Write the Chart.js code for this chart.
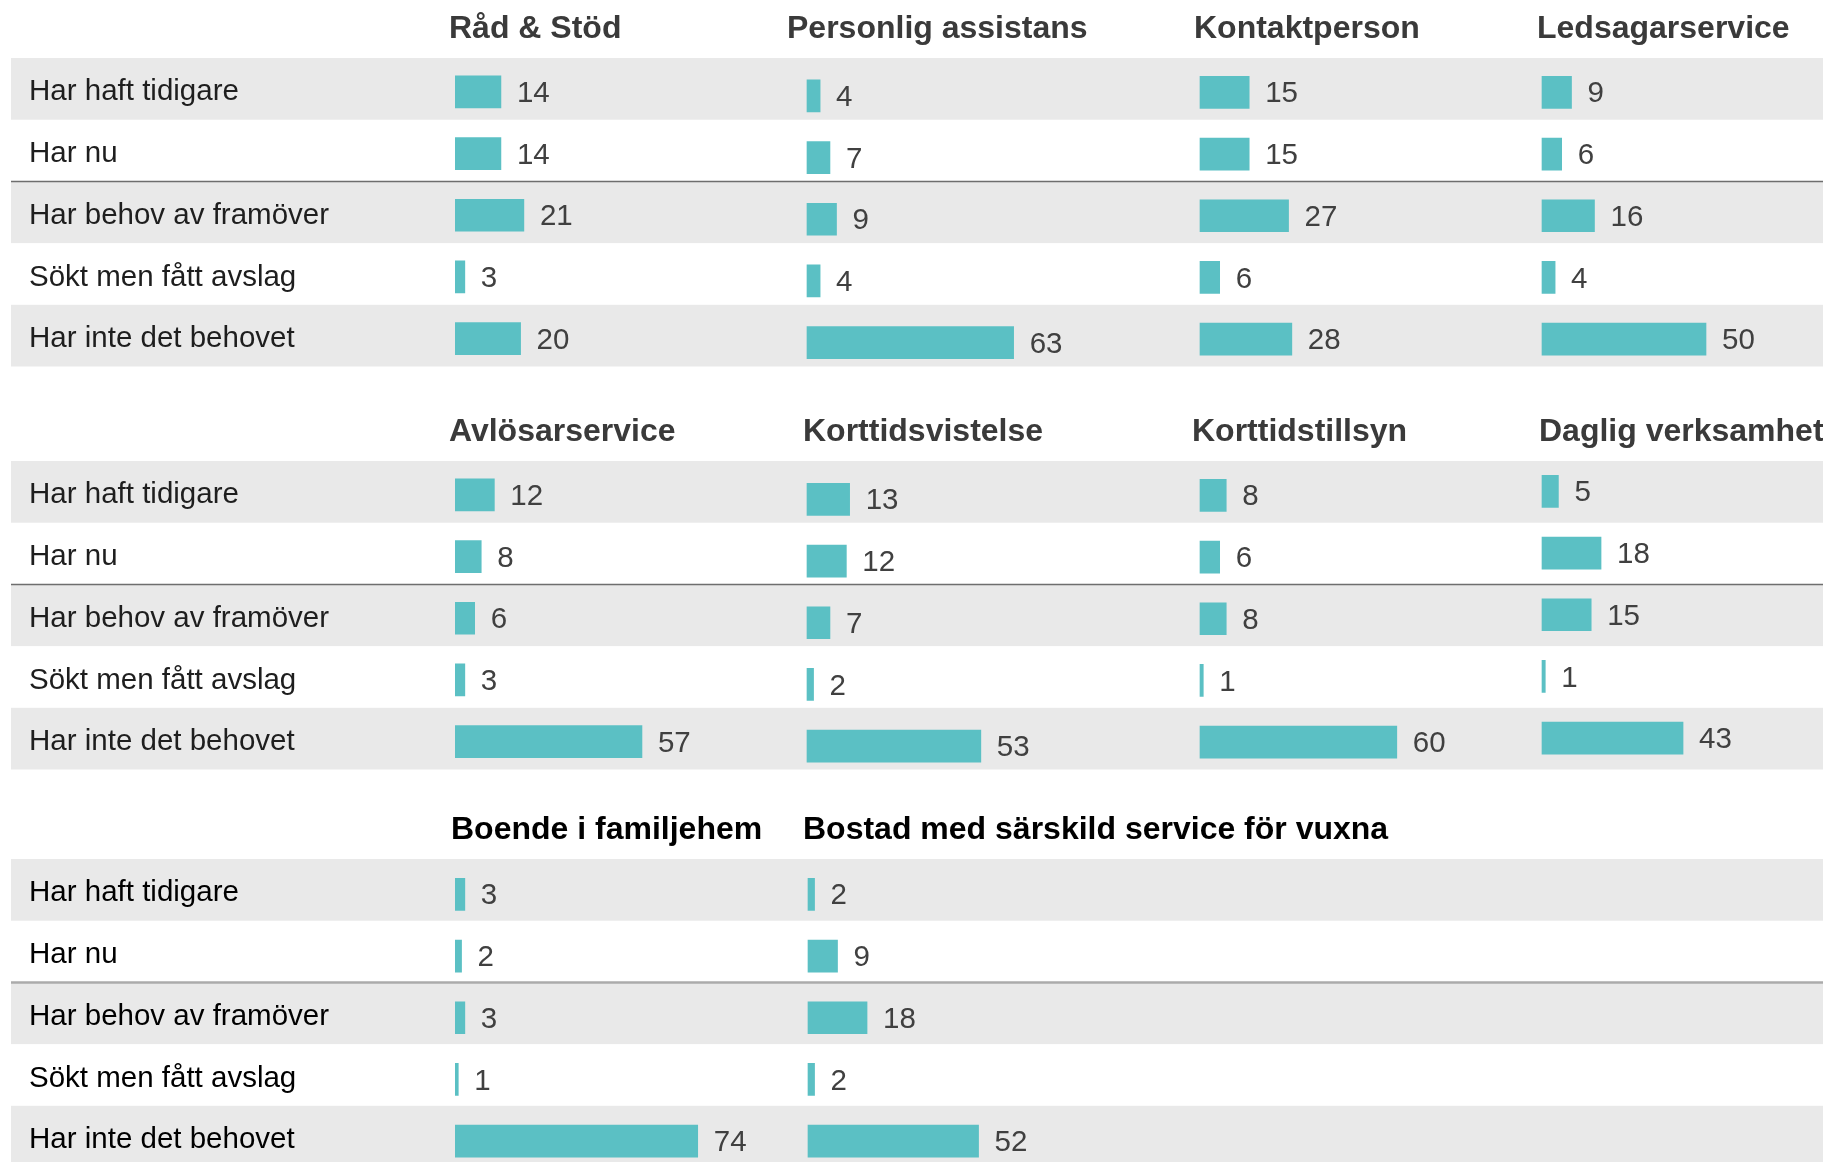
<!DOCTYPE html>
<html>
<head>
<meta charset="utf-8">
<script src="https://cdn.jsdelivr.net/npm/chart.js@4.4.0/dist/chart.umd.min.js"></script>
<style>
	html, body { margin: 0; padding: 0; background: #fff; overflow: hidden; }
	body { width: 1823px; height: 1162px; position: relative; }
	.panel { position: absolute; left: 0; width: 1823px; height: 400px; }
</style>
</head>
<body>
<div class="panel" style="top:0px"><canvas id="panel1" width="1823" height="400"></canvas></div>
<div class="panel" style="top:403px"><canvas id="panel2" width="1823" height="400"></canvas></div>
<div class="panel" style="top:801px"><canvas id="panel3" width="1823" height="400"></canvas></div>
<script>
// kategorier (rader)
const categories = [
	"Har haft tidigare",
	"Har nu",
	"Har behov av framöver",
	"Sökt men fått avslag",
	"Har inte det behovet",
];

// värden per insats
const radStod = [14, 14, 21, 3, 20];
const personligAssistans = [4, 7, 9, 4, 63];
const kontaktperson = [15, 15, 27, 6, 28];
const ledsagarservice = [9, 6, 16, 4, 50];
const avlosarservice = [12, 8, 6, 3, 57];
const korttidsvistelse = [13, 12, 7, 2, 53];
const korttidstillsyn = [8, 6, 8, 1, 60];
const dagligVerksamhet = [5, 18, 15, 1, 43];
const boendeFamiljehem = [3, 2, 3, 1, 74];
const bostadVuxna = [2, 9, 18, 2, 52];

const FONT = "'Liberation Sans', Arial, sans-serif";
const BAR_COLOR = "#5bc0c4";
const PX_PER_UNIT = 3.28;
const AREA_LEFT = 455; // där staplarna börjar
const ROW_H = 61.7;
const CANVAS_H = 400;
const TOP_PAD = 58;

const panels = [
	{
		id: "panel1",
		dark: false,
		columns: [
			{ title: "Råd & Stöd", data: radStod, barX: 455, titleX: 449, dy: 3 },
			{ title: "Personlig assistans", data: personligAssistans, barX: 807, titleX: 787, dy: 7 },
			{ title: "Kontaktperson", data: kontaktperson, barX: 1200, titleX: 1194, dy: 3.5 },
			{ title: "Ledsagarservice", data: ledsagarservice, barX: 1542, titleX: 1537, dy: 3.5 },
		],
	},
	{
		id: "panel2",
		dark: false,
		columns: [
			{ title: "Avlösarservice", data: avlosarservice, barX: 455, titleX: 449, dy: 3 },
			{ title: "Korttidsvistelse", data: korttidsvistelse, barX: 807, titleX: 803, dy: 7.5 },
			{ title: "Korttidstillsyn", data: korttidstillsyn, barX: 1200, titleX: 1192, dy: 3.5 },
			{ title: "Daglig verksamhet", data: dagligVerksamhet, barX: 1542, titleX: 1539, dy: -0.5 },
		],
	},
	{
		id: "panel3",
		dark: true,
		columns: [
			{ title: "Boende i familjehem", data: boendeFamiljehem, barX: 455, titleX: 451, dy: 4.5 },
			{ title: "Bostad med särskild service för vuxna", data: bostadVuxna, barX: 808, titleX: 803, dy: 4.5 },
		],
	},
];

/**
 * plugin som ritar rader, skiljelinje, rubriker och värden
 */
const panelDecor = {
	id: "panelDecor",
	beforeDraw(chart, args, opts) {
		const { ctx, scales } = chart;
		const y = scales.y;
		ctx.save();
		ctx.fillStyle = "#e9e9e9";
		categories.forEach((c, i) => {
			if (i % 2 === 0) {
				const yc = y.getPixelForValue(i);
				ctx.fillRect(11, yc - ROW_H / 2, chart.width - 11, ROW_H);
			}
		});
		// linje mellan "Har nu" och "Har behov av framöver"
		const lineY = (y.getPixelForValue(1) + y.getPixelForValue(2)) / 2;
		ctx.strokeStyle = opts.dark ? "#ababab" : "#6e6e6e";
		ctx.lineWidth = opts.dark ? 2.5 : 1.5;
		ctx.beginPath();
		ctx.moveTo(11, lineY);
		ctx.lineTo(chart.width, lineY);
		ctx.stroke();
		ctx.restore();
	},
	// varje kolumn sitter lite olika i höjdled
	beforeDatasetDraw(chart, args, opts) {
		chart.ctx.save();
		chart.ctx.translate(0, opts.columns[args.index].dy);
	},
	afterDatasetDraw(chart) {
		chart.ctx.restore();
	},
	afterDatasetsDraw(chart, args, opts) {
		const { ctx, chartArea } = chart;
		ctx.save();
		// rubriker
		ctx.font = "bold 32px " + FONT;
		ctx.fillStyle = opts.dark ? "#000" : "#3a3a3a";
		ctx.textBaseline = "alphabetic";
		ctx.textAlign = "left";
		opts.columns.forEach((col) => {
			ctx.fillText(col.title, col.titleX, chartArea.top - 20);
		});
		// värden
		ctx.font = "29.5px " + FONT;
		ctx.fillStyle = "#404040";
		ctx.textBaseline = "middle";
		chart.data.datasets.forEach((ds, di) => {
			const meta = chart.getDatasetMeta(di);
			const dy = opts.columns[di].dy;
			meta.data.forEach((bar, i) => {
				ctx.fillText(String(ds.data[i]), bar.x + 16, bar.y + dy + 2);
			});
		});
		ctx.restore();
	},
};

panels.forEach((panel) => {
	const ctx = document.getElementById(panel.id).getContext("2d");
	const areaWidth = 1823 - AREA_LEFT;

	const scales = {
		y: {
			position: "left",
			grid: { display: false },
			border: { display: false },
			ticks: {
				crossAlign: "far",
				padding: 0,
				labelOffset: 3.5,
				color: panel.dark ? "#000" : "#1e1e1e",
				font: { family: FONT, size: 29.5 },
			},
			afterFit: (scale) => {
				scale.width = AREA_LEFT - 29;
			},
		},
	};

	panel.columns.forEach((col, i) => {
		const min = -(col.barX - AREA_LEFT) / PX_PER_UNIT;
		scales["x" + i] = {
			display: false,
			min: min,
			max: min + areaWidth / PX_PER_UNIT,
		};
	});

	new Chart(ctx, {
		type: "bar",
		data: {
			labels: categories,
			datasets: panel.columns.map((col, i) => ({
				label: col.title,
				data: col.data,
				xAxisID: "x" + i,
				backgroundColor: BAR_COLOR,
				barThickness: 32,
				grouped: false,
			})),
		},
		options: {
			indexAxis: "y",
			responsive: false,
			animation: false,
			layout: {
				padding: { left: 29, top: TOP_PAD, right: 0, bottom: CANVAS_H - TOP_PAD - ROW_H * 5 },
			},
			scales: scales,
			plugins: {
				legend: { display: false },
				tooltip: { enabled: false },
				panelDecor: { columns: panel.columns, dark: panel.dark },
			},
		},
		plugins: [panelDecor],
	});
});
</script>
</body>
</html>
